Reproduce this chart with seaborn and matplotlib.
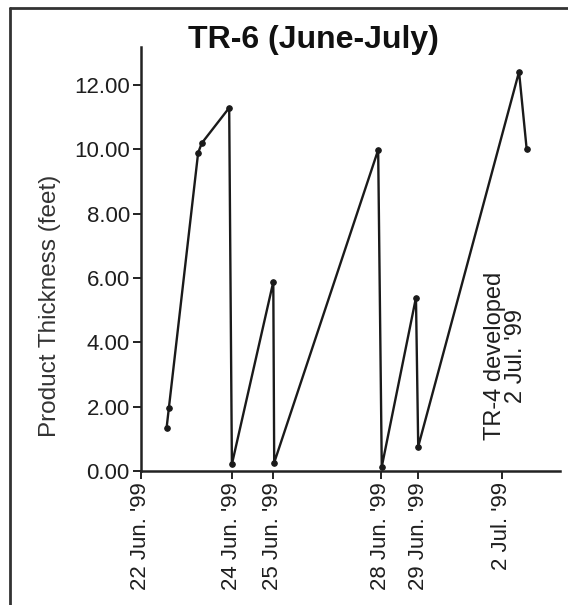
import matplotlib
matplotlib.use("Agg")
import matplotlib.pyplot as plt
import seaborn as sns
import pandas as pd
from matplotlib.lines import Line2D

# positions along the x axis (chart units, 22 Jun '99 = 0)
x_pos = [0.57, 0.62, 1.27, 1.35, 1.96, 2.02, 2.94, 2.96,
         5.27, 5.35, 6.11, 6.16, 8.40, 8.57]
thickness_ft = [1.35, 1.96, 9.89, 10.19, 11.29, 0.21, 5.88, 0.26,
                9.98, 0.13, 5.39, 0.76, 12.41, 10.00]

tick_pos = [0, 2.02, 2.93, 5.33, 6.16, 8.02]
tick_labels = ["22 Jun. '99", "24 Jun. '99", "25 Jun. '99",
               "28 Jun. '99", "29 Jun. '99", "2 Jul. '99"]
y_ticks = [0, 2, 4, 6, 8, 10, 12]

df = pd.DataFrame({"x": x_pos, "y": thickness_ft})

sns.set_style("ticks")
plt.rcParams["font.family"] = ["Liberation Sans", "DejaVu Sans"]

fig = plt.figure(figsize=(5.68, 6.05), dpi=100)
ax = fig.add_axes([0.2482, 0.2215, 0.7377, 0.7008])

sns.lineplot(data=df, x="x", y="y", sort=False, color="#1a1a1a",
             linewidth=1.7, marker="o", markersize=4,
             markeredgecolor="#1a1a1a", ax=ax)

ax.set_xlim(0, 9.31)
ax.set_ylim(0, 13.18)
ax.set_xticks(tick_pos)
ax.set_xticklabels(tick_labels, rotation=90, fontsize=16, color="#1e1e1e")
ax.set_yticks(y_ticks)
ax.set_yticklabels([f"{v:.2f}" for v in y_ticks], fontsize=16, color="#1e1e1e")
ax.set_xlabel("")
ax.set_ylabel("")
ax.tick_params(axis="both", length=6, width=1.4, color="#222222", pad=2)

sns.despine(ax=ax)
for side in ["left", "bottom"]:
    ax.spines[side].set_linewidth(1.8)
    ax.spines[side].set_color("#222222")

ax.text(-0.217, 0.389, "Product Thickness (feet)", rotation=90,
        ha="center", va="center", fontsize=17.5, color="#333333",
        transform=ax.transAxes)

ax.text(8.1, 0.96, "TR-4 developed\n2 Jul. '99", rotation=90,
        ha="center", va="bottom", fontsize=17, color="#1e1e1e",
        linespacing=0.92)

fig.text(0.551, 0.934, "TR-6 (June-July)", ha="center", va="center",
         fontsize=23, fontweight="bold", color="#111111")

# scanned page frame
fig.add_artist(Line2D([0.0176, 0.0176], [0.0, 0.9868], transform=fig.transFigure,
                      color="#333333", linewidth=2))
fig.add_artist(Line2D([0.0176, 1.0], [0.9868, 0.9868], transform=fig.transFigure,
                      color="#333333", linewidth=2))

fig.savefig("out.png", dpi=100)
